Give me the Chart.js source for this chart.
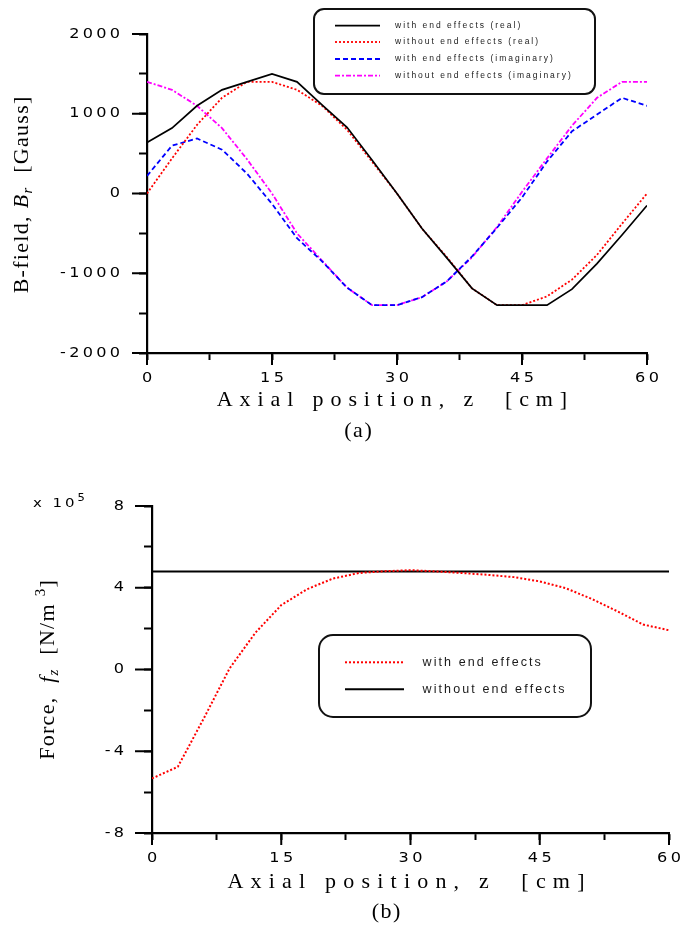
<!DOCTYPE html>
<html><head><meta charset="utf-8">
<script src="https://cdn.jsdelivr.net/npm/chart.js@4.4.0/dist/chart.umd.min.js"></script>
<style>
html,body{margin:0;padding:0;background:#fff;}
#wrap{position:relative;width:683px;height:931px;background:#fff;}
.c{position:absolute;left:0;width:683px;}
</style></head><body>
<div id="wrap">
<div class="c" style="top:0;height:460px"><canvas id="topChart"></canvas></div>
<div class="c" style="top:460px;height:471px"><canvas id="botChart"></canvas></div>
</div>
<script>
// ---------- data ----------
const zPos = [0,3,6,9,12,15,18,21,24,27,30,33,36,39,42,45,48,51,54,57,60];
const brRealWith    = [640,820,1100,1300,1400,1500,1400,1110,830,420,0,-440,-810,-1190,-1400,-1400,-1400,-1200,-880,-520,-150];
const brRealWithout = [0,440,860,1200,1400,1400,1300,1100,800,400,0,-440,-800,-1190,-1400,-1400,-1290,-1080,-770,-380,0];
const brImagWith    = [220,600,690,550,250,-130,-560,-850,-1180,-1400,-1400,-1300,-1100,-790,-430,-50,400,780,990,1200,1100];
const brImagWithout = [1400,1300,1100,820,430,0,-500,-840,-1180,-1400,-1400,-1300,-1100,-800,-420,20,440,850,1200,1400,1400];
const fzWith    = [-5.33,-4.76,-2.4,0.05,1.8,3.15,3.93,4.45,4.72,4.81,4.86,4.8,4.72,4.63,4.52,4.31,3.98,3.46,2.85,2.2,1.92];
const fzWithout = [4.8,4.8,4.8,4.8,4.8,4.8,4.8,4.8,4.8,4.8,4.8,4.8,4.8,4.8,4.8,4.8,4.8,4.8,4.8,4.8,4.8];
const xTickLabels = [0,15,30,45,60];
const brTickLabels = [2000,1000,0,-1000,-2000];
const fzTickLabels = [8,4,0,-4,-8];
const brSeriesNames = ['with end effects (real)','without end effects (real)','with end effects (imaginary)','without end effects (imaginary)'];
const fzSeriesNames = ['with end effects','without end effects'];

const SANS = '"Liberation Sans", Arial, sans-serif';
const DSANS = '"DejaVu Sans", sans-serif';
const SERIF = '"Liberation Serif", "Times New Roman", serif';

function pts(vals){ return zPos.map((z,i)=>({x:z,y:vals[i]})); }

// ---------- text helpers ----------
function drawRich(ctx, segs, x, y, o){
  o = o || {};
  const sx = o.sx || 1, sp = o.spacing || 0;
  ctx.save();
  ctx.textBaseline = 'middle'; ctx.textAlign = 'left';
  ctx.fillStyle = o.color || '#000';
  const chars = [];
  segs.forEach(s=>{
    ctx.font = s.font;
    [...s.t].forEach(c=>chars.push({c, font:s.font, dy:s.dy||0, w:ctx.measureText(c).width*sx}));
  });
  const total = chars.reduce((a,ch)=>a+ch.w,0) + sp*(chars.length-1);
  ctx.translate(x,y);
  if (o.rot) ctx.rotate(o.rot);
  let cx = o.align==='right' ? -total : (o.align==='center' ? -total/2 : 0);
  chars.forEach(ch=>{
    ctx.save(); ctx.font = ch.font; ctx.translate(cx, ch.dy); ctx.scale(sx,1);
    ctx.fillText(ch.c,0,0); ctx.restore();
    cx += ch.w + sp;
  });
  ctx.restore();
}
function drawText(ctx, str, x, y, font, o){ drawRich(ctx,[{t:str,font}],x,y,o); }

function roundRect(ctx,x,y,w,h,r){
  ctx.beginPath();
  ctx.moveTo(x+r,y); ctx.lineTo(x+w-r,y); ctx.arcTo(x+w,y,x+w,y+r,r);
  ctx.lineTo(x+w,y+h-r); ctx.arcTo(x+w,y+h,x+w-r,y+h,r);
  ctx.lineTo(x+r,y+h); ctx.arcTo(x,y+h,x,y+h-r,r);
  ctx.lineTo(x,y+r); ctx.arcTo(x,y,x+r,y,r); ctx.closePath();
}

function drawLegend(chart, box, sample, textX, rows, font, spacing){
  const ctx = chart.ctx;
  ctx.save();
  roundRect(ctx, box.x, box.y, box.w, box.h, box.r);
  ctx.fillStyle = '#fff'; ctx.fill();
  ctx.lineWidth = 2; ctx.strokeStyle = '#111'; ctx.stroke();
  chart.data.datasets.forEach((ds,i)=>{
    const y = rows[i];
    ctx.save();
    ctx.strokeStyle = ds.borderColor; ctx.lineWidth = ds.borderWidth;
    ctx.setLineDash(ds.borderDash || []);
    ctx.beginPath(); ctx.moveTo(sample[0], y); ctx.lineTo(sample[1], y); ctx.stroke();
    ctx.restore();
    drawText(ctx, ds.label, textX, y, font, {spacing, color:'#1a1a1a'});
  });
  ctx.restore();
}

function drawAxesDecor(chart, o){
  const ctx = chart.ctx, xs = chart.scales.x, ys = chart.scales.y, ca = chart.chartArea;
  const tickFont = '14px '+DSANS;
  ctx.save();
  ctx.strokeStyle = '#000'; ctx.lineWidth = 2; ctx.setLineDash([]);
  o.yLabels.forEach(v=>{
    const py = ys.getPixelForValue(v);
    ctx.beginPath(); ctx.moveTo(ca.left - o.yMajor, py); ctx.lineTo(ca.left, py); ctx.stroke();
    drawText(ctx, String(v), ca.left - o.yLabelGap, py, tickFont, {align:'right', sx:1.15, spacing:3.3});
  });
  xTickLabels.forEach(v=>{
    const px = xs.getPixelForValue(v);
    ctx.beginPath(); ctx.moveTo(px, ca.bottom); ctx.lineTo(px, ca.bottom + o.xMajor); ctx.stroke();
    drawText(ctx, String(v), px, ca.bottom + 25, tickFont, {align:'center', sx:1.15, spacing:3.3});
  });
  ctx.restore();
}

function baseOptions(yMin,yMax,yStep,pad){
  return {
    responsive:true, maintainAspectRatio:false, animation:false, devicePixelRatio:1,
    layout:{padding:pad},
    plugins:{legend:{display:false}, tooltip:{enabled:false}},
    elements:{point:{radius:0}, line:{tension:0}},
    scales:{
      x:{type:'linear', min:0, max:60,
         ticks:{stepSize:7.5, display:false},
         grid:{display:true, drawOnChartArea:false, drawTicks:true, tickLength:7, tickWidth:2, tickColor:'#000'},
         border:{display:true, width:2.2, color:'#000'},
         afterFit(s){ s.height = 15; }},
      y:{type:'linear', min:yMin, max:yMax,
         ticks:{stepSize:yStep, display:false},
         grid:{display:true, drawOnChartArea:false, drawTicks:true, tickLength:8, tickWidth:2, tickColor:'#000'},
         border:{display:true, width:2.2, color:'#000'},
         afterFit(s){ s.width = 16; }}
    }
  };
}

// ---------- top chart ----------
const topPlugin = {
  id:'topDecor',
  afterDraw(chart){
    const ctx = chart.ctx;
    drawAxesDecor(chart,{yLabels:brTickLabels, yMajor:15, xMajor:12, yLabelGap:27});
    drawRich(ctx,[
      {t:'B-field, ', font:'22px '+SERIF},
      {t:'B', font:'italic 22px '+SERIF},
      {t:'r', font:'italic 15px '+SERIF, dy:6},
      {t:'  [Gauss]', font:'22px '+SERIF}
    ], 22, 195, {align:'center', rot:-Math.PI/2, spacing:1.3});
    drawText(ctx,'Axial position, z  [cm]', 392, 400, '22px '+SERIF, {align:'center', spacing:6.9});
    drawText(ctx,'(a)', 358, 431, '22px '+SERIF, {align:'center', spacing:1.5});
    drawLegend(chart,{x:314,y:9,w:281,h:85,r:10},[335,380],395,[25.7,42,59,75.7],'8.5px '+SANS,2);
  }
};
new Chart(document.getElementById('topChart'),{
  type:'line',
  data:{datasets:[
    {label:brSeriesNames[0], data:pts(brRealWith), borderColor:'#000000', borderWidth:1.7, borderDash:[]},
    {label:brSeriesNames[1], data:pts(brRealWithout), borderColor:'#ff0000', borderWidth:1.8, borderDash:[2,2]},
    {label:brSeriesNames[2], data:pts(brImagWith), borderColor:'#0000ff', borderWidth:1.8, borderDash:[5,3]},
    {label:brSeriesNames[3], data:pts(brImagWithout), borderColor:'#ff00ff', borderWidth:1.8, borderDash:[5,2,2,2]}
  ]},
  options: baseOptions(-2000,2000,500,{left:131,right:36,top:34,bottom:92}),
  plugins:[topPlugin]
});

// ---------- bottom chart ----------
const botPlugin = {
  id:'botDecor',
  afterDraw(chart){
    const ctx = chart.ctx;
    drawAxesDecor(chart,{yLabels:fzTickLabels, yMajor:17, xMajor:12, yLabelGap:28});
    drawRich(ctx,[
      {t:'x 10', font:'13px '+DSANS},
      {t:'5', font:'10px '+DSANS, dy:-6}
    ], 33, 44, {sx:1.15, spacing:3});
    drawRich(ctx,[
      {t:'Force,  ', font:'22px '+SERIF},
      {t:'f', font:'italic 22px '+SERIF},
      {t:'z', font:'italic 15px '+SERIF, dy:6},
      {t:'  [N/m ', font:'22px '+SERIF},
      {t:'3', font:'15px '+SERIF, dy:-7},
      {t:']', font:'22px '+SERIF}
    ], 48, 210, {align:'center', rot:-Math.PI/2, spacing:1.3});
    drawText(ctx,'Axial position, z  [cm]', 406, 422, '22px '+SERIF, {align:'center', spacing:7.2});
    drawText(ctx,'(b)', 386, 452, '22px '+SERIF, {align:'center', spacing:1.5});
    drawLegend(chart,{x:319,y:175,w:272,h:82,r:14},[345,404],422.5,[202.3,229.3],'12.5px '+SANS,2.1);
  }
};
new Chart(document.getElementById('botChart'),{
  type:'line',
  data:{datasets:[
    {label:fzSeriesNames[0], data:pts(fzWith), borderColor:'#ff0000', borderWidth:2, borderDash:[2,2]},
    {label:fzSeriesNames[1], data:pts(fzWithout), borderColor:'#000000', borderWidth:2, borderDash:[]}
  ]},
  options: baseOptions(-8,8,2,{left:136,right:14,top:46,bottom:83}),
  plugins:[botPlugin]
});
</script>
</body></html>
